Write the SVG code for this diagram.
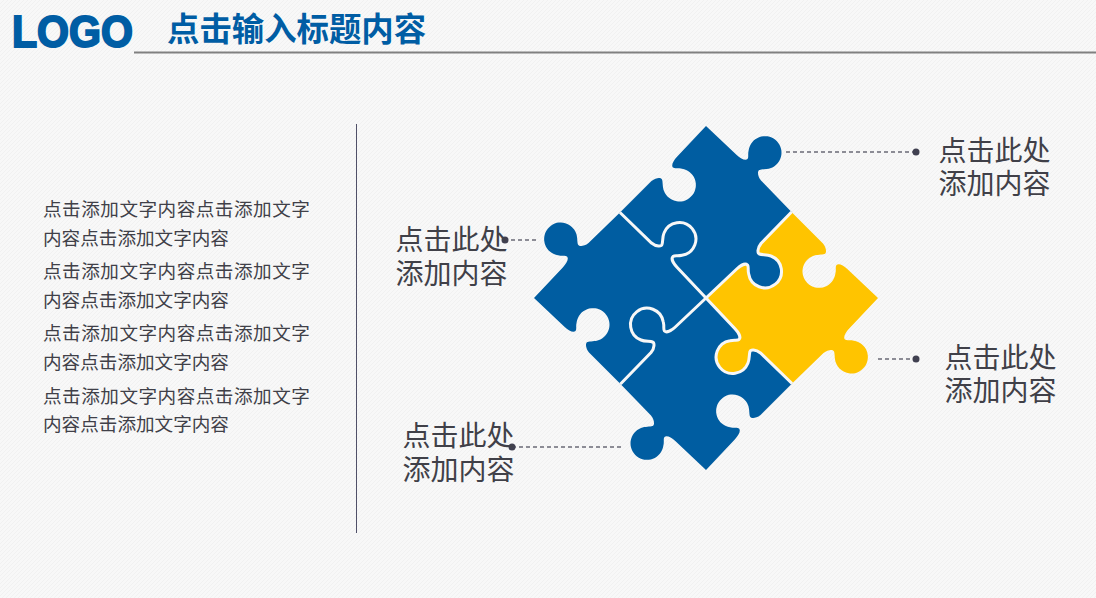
<svg xmlns="http://www.w3.org/2000/svg" xmlns:xlink="http://www.w3.org/1999/xlink" width="1096" height="598" viewBox="0 0 1096 598">
<style>
.cjk{font-family:"Liberation Sans","Noto Sans CJK SC",sans-serif}
.lab{font-size:28px;fill:#404048}
.body{font-size:18.6px;fill:#404048}
.just{letter-spacing:.5px}
.lead{stroke:#6a6a76;stroke-width:1.3;stroke-dasharray:4 3;fill:none}
.dot{fill:#404050}
.seam{fill:none;stroke:#f7f7f7;stroke-width:3}
</style>
<defs>
<pattern id="hatch" width="4" height="4" patternUnits="userSpaceOnUse">
<rect width="4" height="4" fill="#f8f8f8"/><path d="M0 3h1v1H0zM1 2h1v1H1zM2 1h1v1H2zM3 0h1v1H3z" fill="#f1f1f1" shape-rendering="crispEdges"/>
</pattern>
<path id="piece" d="M0 -172 L30.7 -143 C35 -139 39.5 -137 41.5 -139 C43 -141 41.5 -143 42.7 -148 A16.500 16.500 0 1 1 65 -130 C61 -128.300 56 -129 53.500 -128 C51.500 -127.500 51 -122.500 55 -117.500 L85.500 -86 L55 -54.500 C51 -49.500 51.500 -44.500 53.500 -44 C56 -43 61 -43.700 65 -42 A16.500 16.500 0 1 1 42.700 -24 C41.500 -29 43 -31 41.500 -33 C39.500 -35 35 -33 30.700 -29 L0 0 L-29 -30.700 C-33 -35 -35 -39.500 -33 -41.500 C-31 -43 -29 -41.500 -24 -42.700 A16.500 16.500 0 1 0 -42 -65 C-43.700 -61 -43 -56 -44 -53.500 C-44.500 -51.500 -49.500 -51 -54.500 -55 L-85.500 -86 L-54.500 -117 C-49.500 -121 -44.500 -120.500 -44 -118.500 C-43 -116 -43.700 -111 -42 -107 A16.500 16.500 0 1 0 -24 -129.300 C-29 -130.500 -31 -129 -33 -130.500 C-35 -132.500 -33 -137 -29 -141.300 Z"/>
<path id="seam" d="M85.500 -86 L55 -54.500 C51 -49.500 51.500 -44.500 53.500 -44 C56 -43 61 -43.700 65 -42 A16.500 16.500 0 1 1 42.700 -24 C41.500 -29 43 -31 41.500 -33 C39.500 -35 35 -33 30.700 -29 L0 0"/>
</defs>
<rect width="1096" height="598" fill="url(#hatch)"/>
<g id="header">
<text x="12" y="47" font-family="Liberation Sans,sans-serif" font-weight="700" font-size="44" fill="#005DA4" stroke="#005DA4" stroke-width="2" textLength="121" lengthAdjust="spacingAndGlyphs">LOGO</text>
<text class="cjk" x="167" y="41" font-size="32.400" font-weight="700" fill="#005DA4">点击输入标题内容</text>
<path d="M134 52.500H1096" stroke="#808080" stroke-width="2" fill="none"/>
</g>
<g id="body-text" class="cjk body">
<text class="just" x="43" y="216">点击添加文字内容点击添加文字</text>
<text x="43" y="245">内容点击添加文字内容</text>
<text class="just" x="43" y="278">点击添加文字内容点击添加文字</text>
<text x="43" y="307">内容点击添加文字内容</text>
<text class="just" x="43" y="340">点击添加文字内容点击添加文字</text>
<text x="43" y="369">内容点击添加文字内容</text>
<text class="just" x="43" y="403">点击添加文字内容点击添加文字</text>
<text x="43" y="431">内容点击添加文字内容</text>
</g>
<path id="divider" d="M356.500 124V533" stroke="#505068" stroke-width="1" fill="none"/>
<g id="puzzle" transform="translate(706 298)">
<use id="piece-top" xlink:href="#piece" href="#piece" fill="#005DA1"/>
<use id="piece-right" xlink:href="#piece" href="#piece" fill="#FFC400" transform="rotate(90)"/>
<use id="piece-bottom" xlink:href="#piece" href="#piece" fill="#005DA1" transform="rotate(180)"/>
<use id="piece-left" xlink:href="#piece" href="#piece" fill="#005DA1" transform="rotate(270)"/>
<use xlink:href="#seam" href="#seam" class="seam"/>
<use xlink:href="#seam" href="#seam" class="seam" transform="rotate(90)"/>
<use xlink:href="#seam" href="#seam" class="seam" transform="rotate(180)"/>
<use xlink:href="#seam" href="#seam" class="seam" transform="rotate(270)"/>
</g>
<g id="connectors">
<path class="lead" d="M786 152H916"/><circle class="dot" cx="916" cy="152" r="3.500"/>
<path class="lead" d="M878 359H916"/><circle class="dot" cx="916" cy="359" r="3.500"/>
<path class="lead" d="M536 240H505"/><circle class="dot" cx="505" cy="240" r="3.500"/>
<path class="lead" d="M621 447H512"/><circle class="dot" cx="512" cy="447" r="3.500"/>
</g>
<g id="label-tr" class="cjk lab"><text x="938.500" y="161">点击此处</text><text x="938.500" y="194">添加内容</text></g>
<g id="label-br" class="cjk lab"><text x="944.500" y="368">点击此处</text><text x="944.500" y="401">添加内容</text></g>
<g id="label-l" class="cjk lab"><text x="395.500" y="250">点击此处</text><text x="395.500" y="284">添加内容</text></g>
<g id="label-bl" class="cjk lab"><text x="402.500" y="446">点击此处</text><text x="402.500" y="480">添加内容</text></g>
</svg>
